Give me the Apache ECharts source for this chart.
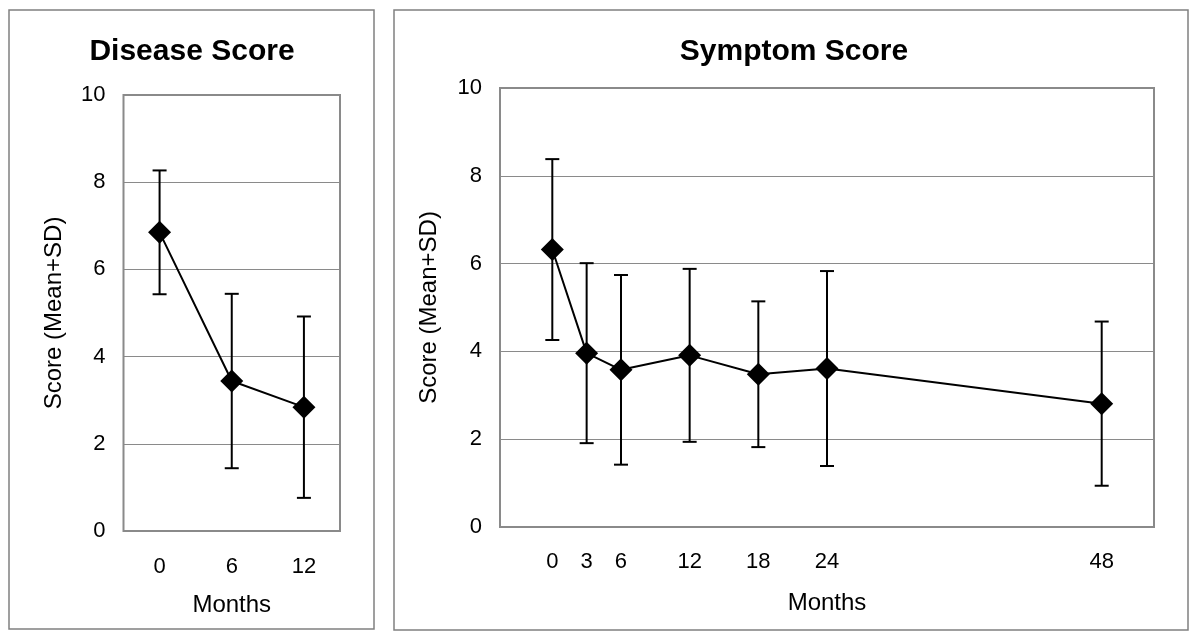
<!DOCTYPE html>
<html>
<head>
<meta charset="utf-8">
<script src="https://cdn.jsdelivr.net/npm/echarts@6/dist/echarts.min.js"></script>
<style>
html,body{margin:0;padding:0;background:#fff;}
#chart{width:1200px;height:644px;}
</style>
</head>
<body>
<div id="chart"></div>
<script>
// ---- Data ----
const diseaseTitle = 'Disease Score';
const symptomTitle = 'Symptom Score';
const yAxisName = 'Score (Mean+SD)';
const xAxisName = 'Months';

const diseaseMonths = ['0', '6', '12'];
const diseaseMean = [6.85, 3.44, 2.84];
const diseaseSD = [1.42, 2.00, 2.08];

const symptomMonths = [0, 3, 6, 12, 18, 24, 48];
const symptomMean = [6.32, 3.96, 3.58, 3.91, 3.48, 3.61, 2.81];
const symptomSD = [2.06, 2.05, 2.16, 1.97, 1.66, 2.22, 1.87];

const yTicks = [0, 2, 4, 6, 8, 10];

// ---- Chart ----
const FONT = '"Liberation Sans", Arial, Helvetica, sans-serif';
const chart = echarts.init(document.getElementById('chart'));

function errorBar(params, api) {
  const x = api.value(0), lo = api.value(1), hi = api.value(2);
  const pLo = api.coord([x, lo]);
  const pHi = api.coord([x, hi]);
  const hw = 7;
  const st = { stroke: '#000', lineWidth: 2 };
  return {
    type: 'group',
    children: [
      { type: 'line', shape: { x1: pLo[0], y1: pLo[1], x2: pHi[0], y2: pHi[1] }, style: st },
      { type: 'line', shape: { x1: pLo[0] - hw, y1: pLo[1], x2: pLo[0] + hw, y2: pLo[1] }, style: st },
      { type: 'line', shape: { x1: pHi[0] - hw, y1: pHi[1], x2: pHi[0] + hw, y2: pHi[1] }, style: st }
    ]
  };
}

const diseaseErr = diseaseMean.map((m, i) => [i, m - diseaseSD[i], m + diseaseSD[i]]);
const symptomErr = symptomMean.map((m, i) => [symptomMonths[i], m - symptomSD[i], m + symptomSD[i]]);
const symptomLine = symptomMean.map((m, i) => [symptomMonths[i], m]);

const yAxisCommon = {
  type: 'value', min: yTicks[0], max: yTicks[yTicks.length - 1], interval: 2,
  axisLine: { show: false }, axisTick: { show: false },
  axisLabel: { color: '#000', fontSize: 22, fontFamily: FONT, margin: 18 },
  splitLine: { show: true, lineStyle: { color: '#8a8a8a', width: 1 } },
  name: yAxisName, nameLocation: 'middle', nameRotate: 90,
  nameTextStyle: { color: '#000', fontSize: 24, fontFamily: FONT }
};

const option = {
  backgroundColor: '#fff',
  animation: false,
  graphic: [
    { type: 'rect', shape: { x: 9, y: 10, width: 365, height: 619 }, style: { fill: 'none', stroke: '#808080', lineWidth: 1.5 }, z: 0 },
    { type: 'rect', shape: { x: 394, y: 10, width: 794, height: 620 }, style: { fill: 'none', stroke: '#808080', lineWidth: 1.5 }, z: 0 },
    { type: 'text', x: 192, y: 52, style: { text: diseaseTitle, fontSize: 30, fontWeight: 'bold', fontFamily: FONT, fill: '#000', textAlign: 'center', textVerticalAlign: 'middle' } },
    { type: 'text', x: 794, y: 52, style: { text: symptomTitle, fontSize: 30, fontWeight: 'bold', fontFamily: FONT, fill: '#000', textAlign: 'center', textVerticalAlign: 'middle' } }
  ],
  grid: [
    { left: 123.5, right: 860, top: 95, bottom: 113, show: true, borderColor: '#8a8a8a', borderWidth: 2, backgroundColor: 'transparent' },
    { left: 500, right: 46, top: 88, bottom: 117, show: true, borderColor: '#8a8a8a', borderWidth: 2, backgroundColor: 'transparent' }
  ],
  xAxis: [
    {
      gridIndex: 0, type: 'category', data: diseaseMonths, boundaryGap: true,
      axisLine: { show: false }, axisTick: { show: false },
      axisLabel: { color: '#000', fontSize: 22, fontFamily: FONT, margin: 25 },
      splitLine: { show: false },
      name: xAxisName, nameLocation: 'middle', nameGap: 62,
      nameTextStyle: { color: '#000', fontSize: 24, fontFamily: FONT }
    },
    {
      gridIndex: 1, type: 'value', min: -4.57, max: 52.57,
      axisLine: { show: false }, axisTick: { show: false },
      axisLabel: { color: '#000', fontSize: 22, fontFamily: FONT, margin: 24, customValues: symptomMonths },
      splitLine: { show: false },
      name: xAxisName, nameLocation: 'middle', nameGap: 64,
      nameTextStyle: { color: '#000', fontSize: 24, fontFamily: FONT }
    }
  ],
  yAxis: [
    Object.assign({ gridIndex: 0, nameGap: 57 }, yAxisCommon),
    Object.assign({ gridIndex: 1, nameGap: 59 }, yAxisCommon)
  ],
  series: [
    { type: 'custom', xAxisIndex: 0, yAxisIndex: 0, renderItem: errorBar, data: diseaseErr, z: 2 },
    { type: 'line', xAxisIndex: 0, yAxisIndex: 0, data: diseaseMean, symbol: 'diamond', symbolSize: 23,
      lineStyle: { color: '#000', width: 2 }, itemStyle: { color: '#000' }, z: 3 },
    { type: 'custom', xAxisIndex: 1, yAxisIndex: 1, renderItem: errorBar, data: symptomErr, z: 2 },
    { type: 'line', xAxisIndex: 1, yAxisIndex: 1, data: symptomLine, symbol: 'diamond', symbolSize: 23,
      lineStyle: { color: '#000', width: 2 }, itemStyle: { color: '#000' }, z: 3 }
  ]
};
chart.setOption(option);
</script>
</body>
</html>
